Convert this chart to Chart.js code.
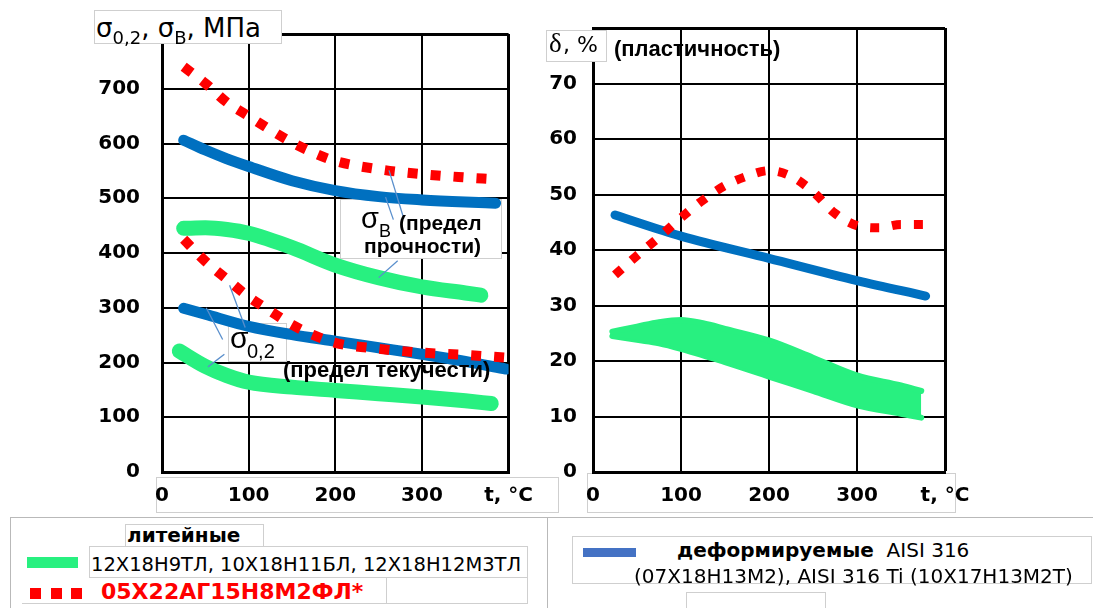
<!DOCTYPE html>
<html>
<head>
<meta charset="utf-8">
<script src="https://cdn.jsdelivr.net/npm/chart.js@4.4.0/dist/chart.umd.min.js"></script>
<style>
  body { margin: 0; width: 1093px; height: 608px; overflow: hidden; position: relative; background: #fff; font-family: "Liberation Sans", Arial, sans-serif; color: #000; }
  canvas { position: absolute; top: 0; }
  .box { position: absolute; box-sizing: border-box; border: 1px solid #cfcfcf; background: #fff; }
  .ln { position: absolute; background: #b9b9b9; }
  .txt { position: absolute; white-space: nowrap; line-height: 1; }
  .sw { position: absolute; }
</style>
</head>
<body>
<!-- рамки под подписями оси t -->
<div class="box" style="left:156px;top:477px;width:403px;height:36px;"></div>
<div class="box" style="left:587px;top:473px;width:369px;height:40px;"></div>

<canvas id="chartSigma" width="545" height="520" style="left:0;"></canvas>
<canvas id="chartDelta" width="548" height="520" style="left:545px;"></canvas>

<!-- заголовки осей -->
<div class="box" style="left:94px;top:10px;width:188px;height:34px;"></div>
<div class="box" style="left:546px;top:30px;width:61px;height:32px;"></div>

<!-- легенда -->
<div class="ln" style="left:10px;top:517px;width:1083px;height:1px;"></div>
<div class="ln" style="left:10px;top:517px;width:1px;height:91px;"></div>
<div class="ln" style="left:547px;top:517px;width:1px;height:91px;"></div>
<div class="box" style="left:125px;top:524px;width:139px;height:23px;"></div>
<div class="box" style="left:89px;top:546px;width:439px;height:32px;"></div>
<div class="box" style="left:386px;top:577px;width:142px;height:27px;"></div>
<div class="ln" style="left:22px;top:603px;width:364px;height:1px;background:#cfcfcf;"></div>
<div class="sw" style="left:27px;top:557px;width:51px;height:11px;background:#28F080;"></div>
<div class="sw" style="left:30px;top:588px;width:11px;height:11px;background:#ff0000;"></div>
<div class="sw" style="left:51px;top:588px;width:11px;height:11px;background:#ff0000;"></div>
<div class="sw" style="left:71px;top:588px;width:11px;height:11px;background:#ff0000;"></div>
<div class="box" style="left:572px;top:536px;width:520px;height:48px;"></div>
<div class="sw" style="left:583px;top:548px;width:53px;height:9px;background:#4472C4;"></div>
<div class="box" style="left:686px;top:592px;width:140px;height:22px;"></div>

<script>
// σ (МПа), предел прочности σв
const tempRedB = [25, 50, 75, 100, 125, 150, 175, 200, 250, 300, 350, 380];
const redSigmaB = [740, 710, 675, 650, 625, 602, 583, 568, 553, 544, 538, 535];
const tempBlueB = [25, 50, 75, 100, 150, 200, 250, 300, 350, 385];
const blueSigmaB = [606, 588, 572, 558, 532, 514, 503, 497, 493, 491];
const tempGreenB = [25, 50, 75, 100, 150, 200, 250, 300, 350, 368];
const greenSigmaB = [445, 446, 443, 436, 410, 378, 355, 338, 327, 323];

// предел текучести σ0,2
const tempRed02 = [25, 50, 75, 100, 125, 150, 175, 200, 250, 300, 350, 395];
const redSigma02 = [425, 385, 352, 320, 294, 269, 250, 236, 225, 218, 214, 209];
const tempBlue02 = [25, 50, 100, 150, 200, 250, 300, 350, 397];
const blueSigma02 = [299, 288, 266, 251, 239, 227, 215, 202, 188];
const tempGreen02 = [20, 50, 75, 100, 150, 200, 250, 300, 350, 380];
const greenSigma02 = [221, 193, 176, 164, 155, 149, 143, 137, 130, 125];

// δ, % (пластичность)
const tempRedD = [25, 50, 75, 100, 125, 150, 175, 200, 225, 250, 275, 300, 325, 350, 375];
const redDelta = [35.5, 39, 42.3, 45.8, 49, 51.6, 53.3, 54.3, 53.3, 50.5, 46.6, 44.4, 44, 44.6, 44.6];
const tempBlueD = [25, 100, 200, 300, 378];
const blueDelta = [46.3, 42.5, 38.5, 34.5, 31.7];
const tempGreenD = [22, 50, 75, 100, 125, 150, 200, 250, 300, 350, 373];
const greenDeltaMax = [25.3, 26.2, 27, 27.4, 26.8, 25.8, 23.7, 20.6, 17.4, 15.6, 14.6];
const greenDeltaMin = [24.5, 23.8, 23.2, 22.2, 21.0, 19.8, 17.2, 14.6, 12.0, 10.5, 9.8];

const tempTicks = [0, 100, 200, 300, 400];

const GREEN = '#28F080';
const BLUE = '#0070C0';
const RED = '#FF0000';
const TICK_FONT = { family: '"DejaVu Sans"', size: 20, weight: 'bold' };

function pts(xs, ys) {
  return xs.map((x, i) => ({ x: x, y: ys[i] }));
}

function solid(xs, ys, color, width) {
  return { data: pts(xs, ys), borderColor: color, borderWidth: width, pointRadius: 0,
           cubicInterpolationMode: 'monotone', borderCapStyle: 'round', borderJoinStyle: 'round', fill: false };
}

function dotted(xs, ys, width) {
  return { data: pts(xs, ys), borderColor: RED, borderWidth: width, pointRadius: 0,
           cubicInterpolationMode: 'monotone', borderDash: [width, 13], borderCapStyle: 'butt', fill: false };
}

// белые рамки подписей под линиями и выноски к кривым
const boxPlugin = {
  id: 'boxes',
  beforeDatasetsDraw(chart, args, opts) {
    const ctx = chart.ctx;
    (opts.rects || []).forEach(r => {
      ctx.save();
      ctx.fillStyle = '#fff';
      ctx.fillRect(r[0], r[1], r[2], r[3]);
      ctx.strokeStyle = '#cfcfcf';
      ctx.lineWidth = 1;
      ctx.strokeRect(r[0] + 0.5, r[1] + 0.5, r[2] - 1, r[3] - 1);
      ctx.restore();
    });
  },
  afterDatasetsDraw(chart, args, opts) {
    const ctx = chart.ctx, sx = chart.scales.x, sy = chart.scales.y;
    (opts.leaders || []).forEach(l => {
      ctx.save();
      ctx.strokeStyle = '#5a8fcc';
      ctx.lineWidth = 1.3;
      ctx.beginPath();
      ctx.moveTo(sx.getPixelForValue(l[0]), sy.getPixelForValue(l[1]));
      ctx.lineTo(sx.getPixelForValue(l[2]), sy.getPixelForValue(l[3]));
      ctx.stroke();
      ctx.restore();
    });
  }
};

function scalesFor(yMax, yStep, yWidth, yPad) {
  return {
    x: {
      type: 'linear', min: 0, max: 400,
      afterFit: s => { s.height = 48; },
      afterBuildTicks: s => { s.ticks = tempTicks.map(v => ({ value: v })); },
      ticks: { padding: 12, color: '#000', font: TICK_FONT, maxRotation: 0,
               callback: v => v === 400 ? 't, °C' : v },
      grid: { color: '#000', lineWidth: c => c.tick && c.tick.value === 400 ? 3 : 2, drawTicks: false },
      border: { color: '#000', width: 3 }
    },
    y: {
      min: 0, max: yMax,
      afterFit: s => { s.width = yWidth; },
      ticks: { stepSize: yStep, padding: yPad, color: '#000', font: TICK_FONT,
               callback: v => v === yMax ? '' : v },
      grid: { color: '#000', lineWidth: c => c.tick && c.tick.value === yMax ? 3 : 2, drawTicks: false },
      border: { color: '#000', width: 3 }
    }
  };
}

new Chart(document.getElementById('chartSigma'), {
  type: 'line',
  data: {
    datasets: [
      dotted(tempRedB, redSigmaB, 10),
      dotted(tempRed02, redSigma02, 10),
      solid(tempBlueB, blueSigmaB, BLUE, 11),
      solid(tempBlue02, blueSigma02, BLUE, 11),
      solid(tempGreenB, greenSigmaB, GREEN, 15),
      solid(tempGreen02, greenSigma02, GREEN, 15)
    ]
  },
  options: {
    responsive: false,
    animation: false,
    layout: { padding: { top: 26, right: 23, left: 0, bottom: 0 }, autoPadding: false },
    plugins: {
      legend: { display: false },
      tooltip: { enabled: false },
      boxes: {
        rects: [[340, 199, 162, 60], [228, 323, 59, 39]],
        leaders: [
          [262, 551, 279, 463], [258, 502, 267, 461], [250, 355, 272, 386],
          [51, 300, 70, 242], [78, 341, 96, 264], [53, 192, 72, 215]
        ]
      }
    },
    scales: scalesFor(800, 100, 162, 22)
  },
  plugins: [boxPlugin]
});

new Chart(document.getElementById('chartDelta'), {
  type: 'line',
  data: {
    datasets: [
      dotted(tempRedD, redDelta, 9),
      solid(tempBlueD, blueDelta, BLUE, 9),
      Object.assign(solid(tempGreenD, greenDeltaMax, GREEN, 6), { fill: '+1', backgroundColor: GREEN }),
      solid(tempGreenD, greenDeltaMin, GREEN, 6)
    ]
  },
  options: {
    responsive: false,
    animation: false,
    layout: { padding: { top: 26, right: 148, left: 0, bottom: 0 }, autoPadding: false },
    plugins: { legend: { display: false }, tooltip: { enabled: false } },
    scales: scalesFor(80, 10, 48, 16)
  }
});

// подписи (текст поверх графиков)
function addText(html, x, base, size, style) {
  const d = document.createElement('div');
  d.className = 'txt';
  d.innerHTML = html;
  d.style.left = x + 'px';
  d.style.top = (base - 0.85 * size) + 'px';
  d.style.fontSize = size + 'px';
  if (style) Object.assign(d.style, style);
  document.body.appendChild(d);
}

const SUB = 'position:relative;top:7px;font-size:18px;';
addText('σ<span style="' + SUB + '">0,2</span>, σ<span style="' + SUB + '">В</span>, МПа', 96, 37, 26,
        { fontFamily: '"DejaVu Sans"' });
addText('δ', 549, 53, 27, { fontFamily: '"Liberation Serif"' });
addText(', %', 563, 53, 22, { fontFamily: '"DejaVu Sans"' });
addText('(пластичность)', 614, 57, 22, { fontWeight: 'bold' });

addText('σ', 361, 229, 29);
addText('В', 379, 237, 18);
addText('(предел', 399, 230, 21, { fontWeight: 'bold' });
addText('прочности)', 364, 253, 21, { fontWeight: 'bold' });
addText('σ', 230, 348, 30);
addText('0,2', 247, 358, 20);
addText('(предел текучести)', 283, 378, 22, { fontWeight: 'bold' });

addText('литейные', 127, 542, 20, { fontFamily: '"DejaVu Sans"', fontWeight: 'bold' });
addText('12Х18Н9ТЛ, 10Х18Н11БЛ, 12Х18Н12М3ТЛ', 91, 572, 19.5, { fontFamily: '"DejaVu Sans"' });
addText('05Х22АГ15Н8М2ФЛ*', 101, 600, 22, { fontFamily: '"DejaVu Sans"', fontWeight: 'bold', color: RED });
addText('<b>деформируемые</b>&nbsp; AISI 316', 677, 557, 20, { fontFamily: '"DejaVu Sans"' });
addText('(07Х18Н13М2), AISI 316 Ti (10Х17Н13М2Т)', 634, 583, 20, { fontFamily: '"DejaVu Sans"' });
</script>
</body>
</html>
